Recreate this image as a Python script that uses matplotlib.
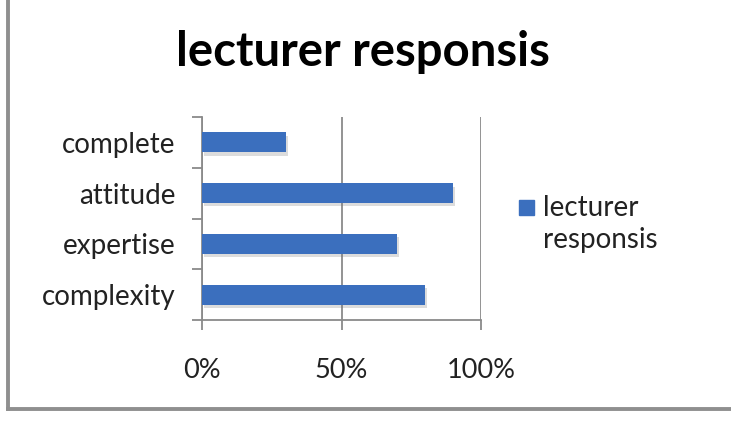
import matplotlib
matplotlib.use('Agg')
import matplotlib.pyplot as plt
import matplotlib.patheffects as pe
from matplotlib.lines import Line2D
from matplotlib.patches import Rectangle
from matplotlib.legend_handler import HandlerPatch
from matplotlib.ticker import FixedLocator, FuncFormatter

plt.rcParams.update({'font.family': ['Lato', 'DejaVu Sans']})

categories = ["complexity", "expertise", "attitude", "complete"]
values = [0.80, 0.70, 0.90, 0.30]
series_name = "lecturer\nresponsis"
title = "lecturer responsis"
xticks = [0, 0.5, 1.0]

W, H = 731, 424
fig = plt.figure(figsize=(W / 100, H / 100), dpi=100)
ax = fig.add_axes([202 / W, 1 - 320 / H, (481 - 202) / W, (320 - 117) / H])

bar_color = '#3b6fbe'
pos = list(range(len(categories)))
bars = ax.barh(pos, values, height=0.39, color=bar_color, label=series_name,
               zorder=3)
for b in bars:
    b.set_path_effects([pe.SimplePatchShadow(offset=(1.5, -2.5), shadow_rgbFace='#777777', alpha=0.25),
                        pe.Normal()])

ax.set_xlim(0, 1.0)
ax.set_ylim(-0.5, len(categories) - 0.5)
ax.xaxis.set_major_locator(FixedLocator(xticks))
ax.xaxis.set_major_formatter(FuncFormatter(lambda v, p: f"{v * 100:.0f}%"))
ax.set_yticks(pos)
ax.set_yticklabels(categories)
ax.set_yticks([p - 0.5 for p in pos] + [len(pos) - 0.5], minor=True)

gray = '#8a8a8a'
txt = '#222222'
ax.grid(axis='x', color=gray, linewidth=1.3, zorder=0)
for s in ['top', 'right']:
    ax.spines[s].set_visible(False)
for s in ['left', 'bottom']:
    ax.spines[s].set_color(gray)
    ax.spines[s].set_linewidth(1.3)
ax.tick_params(axis='y', which='major', length=0, pad=19, labelsize=20, labelcolor=txt)
ax.tick_params(axis='y', which='minor', length=7, width=1.3, color=gray, direction='out')
ax.tick_params(axis='x', length=7, width=1.3, color=gray, direction='out', pad=20,
               labelsize=19.5, labelcolor=txt)

fig.text(0.497, 1 - 52 / H, title, ha='center', va='center', fontsize=34, fontweight='bold')


def top_square(legend, orig_handle, xdescent, ydescent, width, height, fontsize):
    s = 0.55 * fontsize
    return Rectangle((-xdescent, -ydescent + height - s + 0.05 * fontsize), s, s)


proxy = Rectangle((0, 0), 1, 1, color=bar_color)
leg = ax.legend(handles=[proxy], labels=[series_name],
                loc='upper left', bbox_to_anchor=(519 / W, 1 - 195 / H), bbox_transform=fig.transFigure,
                frameon=False, fontsize=20, handlelength=0.55, handleheight=2.4, handletextpad=0.3,
                borderaxespad=0, borderpad=0,
                handler_map={Rectangle: HandlerPatch(patch_func=top_square)})
for t in leg.get_texts():
    t.set_linespacing(1.3)
    t.set_color(txt)

frame_color = '#8f8f8f'
fig.add_artist(Line2D([8 / W, 8 / W], [1, 1 - 409 / H], transform=fig.transFigure,
                      color=frame_color, linewidth=2.8))
fig.add_artist(Line2D([8 / W, 1], [1 - 409 / H, 1 - 409 / H], transform=fig.transFigure,
                      color=frame_color, linewidth=2.8))

fig.savefig('out.png', dpi=100, facecolor='white')
